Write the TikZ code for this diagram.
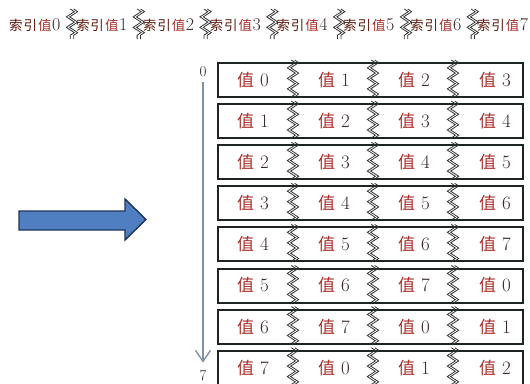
\documentclass[tikz,border=0pt]{standalone}
\usepackage{fontspec}
\newfontfamily\cjk{Noto Sans CJK SC}
\usetikzlibrary{arrows.meta,decorations.pathmorphing}
\definecolor{valred}{HTML}{A8302C}
\definecolor{idxbrown}{HTML}{5C1A0E}
\definecolor{digitgray}{HTML}{3A2A2A}
\definecolor{framecol}{HTML}{1E2420}
\definecolor{arrowfill}{HTML}{4F7FC0}
\definecolor{arrowedge}{HTML}{1F3458}
\definecolor{axiscol}{HTML}{8292A6}
\tikzset{
  rowbox/.style={draw=framecol, line width=2pt, fill=white, inner sep=0pt,
                 minimum width=305pt, minimum height=34pt, anchor=north west},
  celltext/.style={anchor=west, inner sep=0pt},
  toptext/.style={anchor=base west, inner sep=0pt},
  zzline/.style={draw=black!80, line width=0.8pt, decorate,
                 decoration={zigzag, segment length=10.5pt, amplitude=4pt}},
  axislabel/.style={font=\fontsize{15}{15}\selectfont, text=black!85, inner sep=1pt}
}
% a double zigzag break mark: x, top, bottom
\newcommand\breakmark[3]{%
  \draw[zzline] (#1-1.7,#2) -- (#1-1.7,#3);
  \draw[zzline] (#1+1.7,#2) -- (#1+1.7,#3);
}
\begin{document}
\begin{tikzpicture}[x=1pt,y=-1pt]
\useasboundingbox (0,0) rectangle (530,383);
\fill[white] (0,0) rectangle (530,383);

% header: index values separated by break marks
\foreach \k in {0,...,7}{
  \node[toptext] (h\k) at ({9+66.8*\k},30)
    {\fontsize{13.5}{13.5}\selectfont\cjk\textcolor{idxbrown}{索\hspace{1pt}引\hspace{1pt}}\textcolor{valred}{值}\hspace{0.5pt}{\rmfamily\fontsize{18}{18}\selectfont\color{digitgray}\k}};
}
\foreach \k in {0,...,6}{
  \breakmark{72+66.8*\k}{9}{39}
}

% big blue arrow
\draw[fill=arrowfill, draw=arrowedge, line width=1.4pt, line join=miter]
  (19,211) -- (125,211) -- (125,199) -- (146,219.5) -- (125,240) -- (125,230) -- (19,230) -- cycle;

% axis from first to last row
\node[axislabel] (a0) at (203,72) {0};
\node[axislabel] (a7) at (203,376) {7};
\draw[axiscol, line width=1.8pt, -{Straight Barb[length=11pt,width=15pt,line width=1.4pt]},
      shorten <=4pt, shorten >=7pt] (a0) -- (a7);

% rows of rotated values
\foreach \i in {0,...,7}{
  \pgfmathsetmacro\top{62+41.1*\i}
  \node[rowbox] (r\i) at (217,\top) {};
  \foreach \j/\xl in {0/237,1/318,2/398,3/479}{
    \pgfmathtruncatemacro\v{mod(\i+\j,8)}
    \node[celltext] (c\i\j) at (\xl,\top+18)
      {\fontsize{17}{17}\selectfont\cjk\textcolor{valred}{值}\hspace{6pt}{\rmfamily\fontsize{19}{19}\selectfont\color{digitgray}\v}};
  }
  \foreach \zx in {293,373,453}{
    \breakmark{\zx}{\top-2}{\top+36}
  }
}
\end{tikzpicture}
\end{document}
